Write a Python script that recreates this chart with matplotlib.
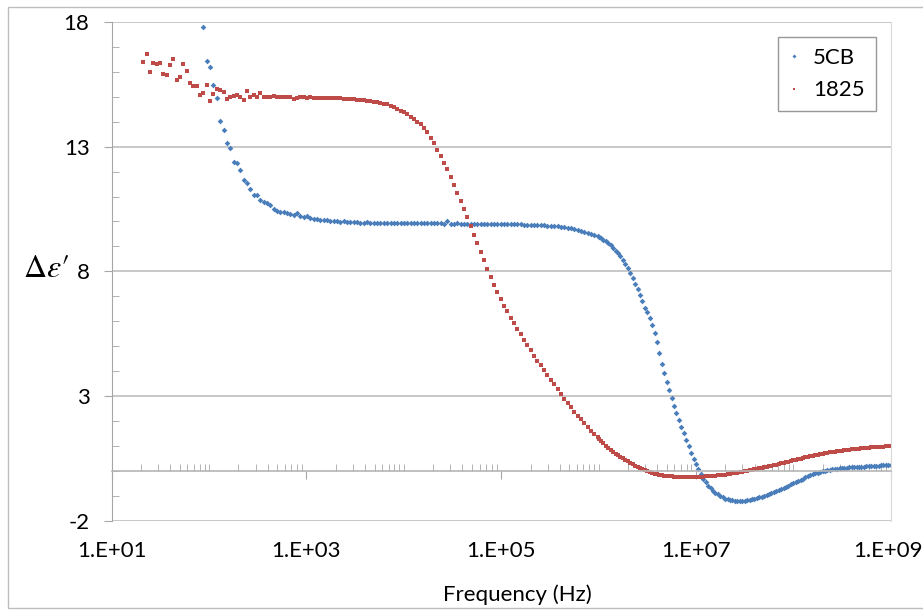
import matplotlib.pyplot as plt
import matplotlib.transforms as mtrans
import numpy as np
from matplotlib.patches import Rectangle
from matplotlib.ticker import LogLocator, NullFormatter

# frequency sweeps: low-frequency bridge and RF analyser (log spaced sweeps)
freq_lcr = np.logspace(1.325, 5.99, 137)
freq_rf = np.logspace(6, 9, 121)

# 1825 (red squares)
v1825_lcr = [
    16.39, 16.71, 15.98, 16.35, 16.31, 16.35, 15.92, 15.86, 16.28, 16.51,
    15.66, 15.81, 16.32, 16.05, 15.57, 15.45, 15.45, 15.06, 15.14, 15.48,
    14.83, 15.10, 15.30, 15.27, 15.21, 14.93, 15.01, 15.03, 15.06, 14.98,
    14.87, 15.25, 15.01, 15.07, 14.98, 15.14, 14.98, 14.98, 14.98, 15.02,
    14.98, 14.98, 15.00, 14.98, 14.98, 14.91, 14.97, 15.00, 14.98, 14.97,
    14.98, 14.97, 14.95, 14.95, 14.95, 14.95, 14.95, 14.96, 14.96, 14.94,
    14.93, 14.92, 14.91, 14.90, 14.89, 14.88, 14.87, 14.85, 14.83, 14.81,
    14.79, 14.76, 14.73, 14.70, 14.65, 14.60, 14.53, 14.45, 14.38, 14.31,
    14.21, 14.11, 13.99, 13.89, 13.75, 13.57, 13.35, 13.13, 12.87, 12.62,
    12.35, 12.09, 11.77, 11.46, 11.16, 10.82, 10.51, 10.16, 9.82, 9.45,
    9.12, 8.78, 8.46, 8.10, 7.78, 7.46, 7.18, 6.90, 6.63, 6.41,
    6.14, 5.92, 5.70, 5.48, 5.25, 5.03, 4.83, 4.62, 4.42, 4.23,
    4.04, 3.84, 3.64, 3.47, 3.28, 3.08, 2.89, 2.73, 2.55, 2.37,
    2.21, 2.07, 1.91, 1.77, 1.61, 1.46, 1.34]
v1825_rf = [
    1.26, 1.19, 1.10, 1.00, 0.91, 0.83, 0.75, 0.68, 0.62, 0.56,
    0.50, 0.45, 0.39, 0.33, 0.27, 0.21, 0.16, 0.11, 0.06, 0.02,
    -0.02, -0.06, -0.09, -0.11, -0.14, -0.16, -0.17, -0.19, -0.20, -0.21,
    -0.22, -0.23, -0.23, -0.24, -0.24, -0.24, -0.24, -0.24, -0.24, -0.24,
    -0.24, -0.24, -0.23, -0.23, -0.22, -0.22, -0.21, -0.20, -0.19, -0.18,
    -0.17, -0.16, -0.15, -0.13, -0.12, -0.10, -0.09, -0.07, -0.05, -0.03,
    -0.02, 0.00, 0.02, 0.04, 0.06, 0.08, 0.10, 0.12, 0.14, 0.16,
    0.19, 0.21, 0.23, 0.25, 0.27, 0.30, 0.32, 0.35, 0.37, 0.40,
    0.42, 0.44, 0.47, 0.49, 0.52, 0.54, 0.56, 0.58, 0.60, 0.62,
    0.64, 0.66, 0.68, 0.70, 0.72, 0.74, 0.75, 0.77, 0.78, 0.80,
    0.81, 0.82, 0.84, 0.85, 0.86, 0.87, 0.88, 0.89, 0.90, 0.91,
    0.92, 0.93, 0.94, 0.95, 0.95, 0.96, 0.97, 0.97, 0.98, 0.99,
    0.99]

# 5CB (blue diamonds) - first 18 sweep points are off scale (>18)
v5cb_lcr = [
    17.81, 16.43, 16.21, 15.49, 14.95, 14.03, 13.67, 13.14, 12.95, 12.37,
    12.33, 12.08, 11.66, 11.53, 11.32, 11.06, 11.05, 10.85, 10.79, 10.75,
    10.66, 10.49, 10.41, 10.38, 10.37, 10.33, 10.30, 10.26, 10.33, 10.22,
    10.17, 10.22, 10.13, 10.11, 10.09, 10.06, 10.06, 10.05, 10.03, 10.03,
    10.00, 9.98, 10.01, 9.99, 9.99, 9.97, 9.96, 9.95, 9.95, 9.96,
    9.95, 9.95, 9.94, 9.95, 9.94, 9.93, 9.94, 9.93, 9.93, 9.93,
    9.94, 9.93, 9.93, 9.92, 9.93, 9.93, 9.95, 9.94, 9.94, 9.93,
    9.94, 9.93, 9.90, 10.01, 9.88, 9.91, 9.92, 9.91, 9.91, 9.91,
    9.91, 9.90, 9.91, 9.90, 9.90, 9.89, 9.89, 9.90, 9.89, 9.89,
    9.89, 9.89, 9.89, 9.88, 9.88, 9.88, 9.87, 9.87, 9.86, 9.86,
    9.85, 9.85, 9.84, 9.83, 9.82, 9.81, 9.80, 9.79, 9.77, 9.74,
    9.72, 9.69, 9.65, 9.62, 9.58, 9.53, 9.49, 9.45, 9.40]
v5cb_rf = [
    9.38, 9.33, 9.27, 9.20, 9.12, 9.04, 8.93, 8.83, 8.72, 8.60,
    8.46, 8.30, 8.12, 7.93, 7.72, 7.51, 7.30, 7.07, 6.81, 6.55,
    6.35, 6.11, 5.83, 5.52, 5.16, 4.74, 4.30, 3.92, 3.58, 3.25,
    2.92, 2.60, 2.31, 2.02, 1.74, 1.50, 1.25, 0.99, 0.72, 0.49,
    0.28, 0.06, -0.14, -0.31, -0.46, -0.59, -0.70, -0.79, -0.87, -0.94,
    -1.00, -1.06, -1.11, -1.14, -1.16, -1.18, -1.19, -1.20, -1.20, -1.20,
    -1.19, -1.18, -1.16, -1.14, -1.12, -1.09, -1.06, -1.03, -0.99, -0.95,
    -0.91, -0.87, -0.83, -0.80, -0.76, -0.72, -0.68, -0.64, -0.60, -0.54,
    -0.49, -0.44, -0.39, -0.35, -0.31, -0.26, -0.22, -0.18, -0.14, -0.10,
    -0.07, -0.04, -0.02, 0.01, 0.03, 0.05, 0.06, 0.08, 0.09, 0.11,
    0.12, 0.13, 0.13, 0.14, 0.14, 0.15, 0.15, 0.16, 0.16, 0.17,
    0.18, 0.18, 0.19, 0.20, 0.20, 0.21, 0.22, 0.22, 0.22, 0.23,
    0.23]

x_ticks = [1e1, 1e3, 1e5, 1e7, 1e9]
x_labels = ['1.E+01', '1.E+03', '1.E+05', '1.E+07', '1.E+09']
y_ticks = [-2, 3, 8, 13, 18]

plt.rcParams['font.family'] = ['Lato', 'DejaVu Sans']
plt.rcParams['mathtext.fontset'] = 'stix'
plt.rcParams['axes.unicode_minus'] = False

W, H = 923, 610
fig = plt.figure(figsize=(W / 100, H / 100), dpi=100)
ax = fig.add_axes([111.7 / W, 1 - 520.7 / H, 779 / W, 498.7 / H])

f5cb = np.concatenate([freq_lcr[18:], freq_rf])
f1825 = np.concatenate([freq_lcr, freq_rf])
ax.plot(f5cb, v5cb_lcr + v5cb_rf, ls='none', marker='D', ms=2.9, mew=0,
        color='#4a7ebb', label='5CB')
ax.plot(f1825, v1825_lcr + v1825_rf, ls='none', marker='s', ms=2.9, mew=0,
        color='#be4b48', label='1825')

ax.set_xscale('log')
ax.set_xlim(1e1, 1e9)
ax.set_ylim(-2, 18)
ax.set_xticks(x_ticks, x_labels)
ax.xaxis.set_minor_locator(LogLocator(base=10, subs=np.arange(1, 10), numticks=100))
ax.xaxis.set_minor_formatter(NullFormatter())
ax.set_yticks(y_ticks)
ax.set_yticks(np.arange(-2, 19, 1), minor=True)

ax.set_axisbelow(True)
ax.yaxis.grid(True, which='major', color='#c4c4c4', lw=1.3)

ax.spines['top'].set_visible(False)
ax.spines['right'].set_color('#d9d9d9')
ax.spines['left'].set_color('#a6a6a6')
ax.spines['bottom'].set_position(('data', 0))
ax.spines['bottom'].set_color('#b5b5b5')
ax.spines['bottom'].set_linewidth(1.2)

ax.tick_params(axis='y', which='major', direction='out', length=6, color='#a6a6a6',
               labelsize=16, pad=10)
ax.tick_params(axis='y', which='minor', direction='in', length=5, color='#a6a6a6')
ax.tick_params(axis='x', which='major', direction='out', length=5.5, color='#a6a6a6',
               labelsize=16, pad=45)
ax.tick_params(axis='x', which='minor', direction='in', length=5, color='#a6a6a6')

# last label sits on the right edge; nudge it in a little so it is not clipped
last = ax.get_xticklabels()[-1]
last.set_transform(last.get_transform() +
                   mtrans.ScaledTranslation(-3 / 100, 0, fig.dpi_scale_trans))

leg = ax.legend(loc='upper right', bbox_to_anchor=(0.981, 0.970), borderaxespad=0,
                fontsize=16, frameon=True, fancybox=False, handlelength=0.5,
                handletextpad=0.6, labelspacing=0.55, borderpad=0.5, markerscale=0.7)
leg.get_frame().set_edgecolor('#7f7f7f')
leg.get_frame().set_linewidth(1.0)

fig.text(517 / W, 1 - 595 / H, 'Frequency (Hz)', fontsize=16, ha='center', va='center')
fig.text(46 / W, 1 - 268 / H, r"$\Delta\varepsilon\prime$", fontsize=23,
         ha='center', va='center')

fig.add_artist(Rectangle((8 / W, 2 / H), 1.5, (H - 9) / H, fill=False,
                         edgecolor='#bdbdbd', lw=1.0, transform=fig.transFigure))

fig.savefig('out.png', dpi=100)
